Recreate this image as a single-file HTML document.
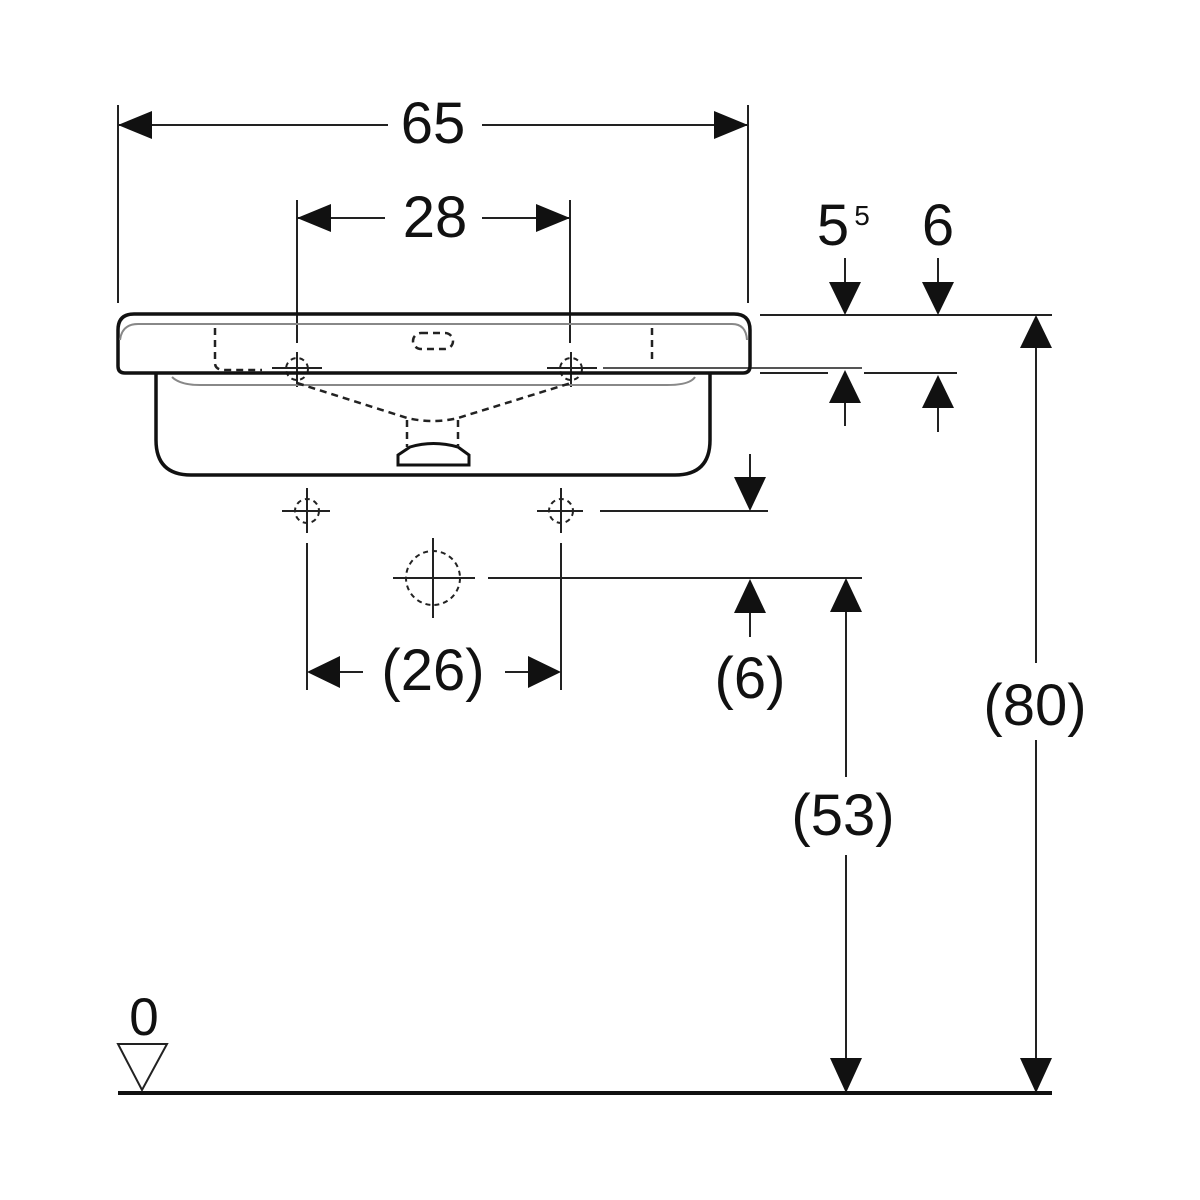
<!DOCTYPE html>
<html><head><meta charset="utf-8"><style>
html,body{margin:0;padding:0;background:#fff;}
svg{display:block;}
text{font-family:"Liberation Sans",Arial,sans-serif;fill:#111;}
</style></head><body>
<svg width="1200" height="1200" viewBox="0 0 1200 1200" xmlns="http://www.w3.org/2000/svg">
<rect width="1200" height="1200" fill="#fff"/>
<g stroke="#222" stroke-width="2" fill="none">
  <!-- 65 dimension -->
  <line x1="118" y1="105" x2="118" y2="303"/>
  <line x1="748" y1="105" x2="748" y2="303"/>
  <line x1="118" y1="125" x2="388" y2="125"/>
  <line x1="482" y1="125" x2="748" y2="125"/>
  <!-- 28 dimension -->
  <line x1="297" y1="200" x2="297" y2="343"/>
  <line x1="570" y1="200" x2="570" y2="343"/>
  <line x1="297" y1="218" x2="385" y2="218"/>
  <line x1="482" y1="218" x2="570" y2="218"/>
  <!-- right reference lines -->
  <line x1="760" y1="315" x2="1052" y2="315"/>
  <line x1="603" y1="368" x2="862" y2="368" stroke="#555"/>
  <line x1="760" y1="373" x2="828" y2="373"/>
  <line x1="864" y1="373" x2="957" y2="373"/>
  <!-- arrow stems 5.5 / 6 -->
  <line x1="845" y1="258" x2="845" y2="290"/>
  <line x1="938" y1="258" x2="938" y2="290"/>
  <line x1="845" y1="395" x2="845" y2="426"/>
  <line x1="938" y1="400" x2="938" y2="432"/>
  <!-- 80 -->
  <line x1="1036" y1="340" x2="1036" y2="663"/>
  <line x1="1036" y1="740" x2="1036" y2="1070"/>
  <!-- small down arrow below bowl -->
  <line x1="750" y1="454" x2="750" y2="490"/>
  <line x1="600" y1="511" x2="768" y2="511"/>
  <!-- 577 line -->
  <line x1="488" y1="578" x2="862" y2="578"/>
  <line x1="750" y1="600" x2="750" y2="637"/>
  <!-- 53 -->
  <line x1="846" y1="600" x2="846" y2="777"/>
  <line x1="846" y1="855" x2="846" y2="1070"/>
  <!-- crosses below -->
  <line x1="282" y1="511" x2="330" y2="511"/>
  <line x1="307" y1="488" x2="307" y2="533"/>
  <line x1="537" y1="511" x2="583" y2="511"/>
  <line x1="561" y1="488" x2="561" y2="533"/>
  <line x1="307" y1="543" x2="307" y2="690"/>
  <line x1="561" y1="543" x2="561" y2="690"/>
  <!-- 26 -->
  <line x1="330" y1="672" x2="363" y2="672"/>
  <line x1="505" y1="672" x2="535" y2="672"/>
  <!-- big circle cross -->
  <line x1="393" y1="578" x2="475" y2="578"/>
  <line x1="433" y1="538" x2="433" y2="618"/>
  <!-- tap crosses on rim -->
  <line x1="272" y1="368" x2="322" y2="368"/>
  <line x1="297" y1="352" x2="297" y2="387"/>
  <line x1="547" y1="368" x2="597" y2="368"/>
  <line x1="571" y1="352" x2="571" y2="387"/>
</g>
<!-- dashed circles -->
<g stroke="#222" stroke-width="2" fill="none" stroke-dasharray="5 4">
  <circle cx="307" cy="511" r="12"/>
  <circle cx="561" cy="511" r="12"/>
  <circle cx="433" cy="578" r="27"/>
  <circle cx="297" cy="369" r="11"/>
  <circle cx="571" cy="369" r="11"/>
</g>
<!-- sink -->
<g stroke="#111" stroke-width="3.5" fill="none">
  <path d="M125 373 Q118 373 118 366 L118 330 Q118 314 134 314 L734 314 Q750 314 750 330 L750 366 Q750 373 743 373 Z"/>
  <path d="M156 373 L156 440 Q156 475 191 475 L675 475 Q710 475 710 440 L710 373"/>
  <path d="M398 465 L398 455 L410 447 Q433 440 458 447 L469 455 L469 465 Z" stroke-width="3"/>
</g>
<g stroke="#888" stroke-width="2" fill="none">
  <path d="M120 340 Q122 324 138 324 L732 324 Q746 324 747 340"/>
  <path d="M172 377 Q180 385 200 385 L667 385 Q690 385 695 377"/>
</g>
<g stroke="#222" stroke-width="2.5" fill="none" stroke-dasharray="7 5">
  <path d="M215 328 L215 363 Q215 370 225 370 L262 370"/>
  <line x1="652" y1="328" x2="652" y2="363"/>
  <rect x="413" y="333" width="40" height="16" rx="8"/>
  <path d="M297 383 L407 418 Q433 424 458 418 L571 383"/>
  <line x1="407" y1="420" x2="407" y2="447"/>
  <line x1="458" y1="420" x2="458" y2="447"/>
</g>
<!-- ground -->
<line x1="118" y1="1093" x2="1052" y2="1093" stroke="#111" stroke-width="4"/>
<polygon points="118,1044 167,1044 142,1090" fill="#fff" stroke="#222" stroke-width="2"/>
<!-- arrowheads -->
<g fill="#111" stroke="none">
  <polygon points="118,125 152,111 152,139"/>
  <polygon points="748,125 714,111 714,139"/>
  <polygon points="297,218 331,204 331,232"/>
  <polygon points="570,218 536,204 536,232"/>
  <polygon points="845,315 829,282 861,282"/>
  <polygon points="938,315 922,282 954,282"/>
  <polygon points="845,370 829,403 861,403"/>
  <polygon points="938,375 922,408 954,408"/>
  <polygon points="1036,315 1020,348 1052,348"/>
  <polygon points="1036,1093 1020,1058 1052,1058"/>
  <polygon points="750,511 734,477 766,477"/>
  <polygon points="750,579 734,613 766,613"/>
  <polygon points="846,578 830,612 862,612"/>
  <polygon points="846,1093 830,1058 862,1058"/>
  <polygon points="307,672 340,656 340,688"/>
  <polygon points="561,672 528,656 528,688"/>
</g>
<!-- labels -->
<g font-size="58" text-anchor="middle">
  <text x="433" y="143">65</text>
  <text x="435" y="237">28</text>
  <text x="833" y="245">5</text>
  <text x="938" y="245">6</text>
  <text x="1035" y="725">(80)</text>
  <text x="750" y="698">(6)</text>
  <text x="843" y="835">(53)</text>
  <text x="433" y="690">(26)</text>
  <text x="144" y="1035" font-size="53">0</text>
</g>
<text x="862" y="225" font-size="28" text-anchor="middle">5</text>
</svg>
</body></html>
